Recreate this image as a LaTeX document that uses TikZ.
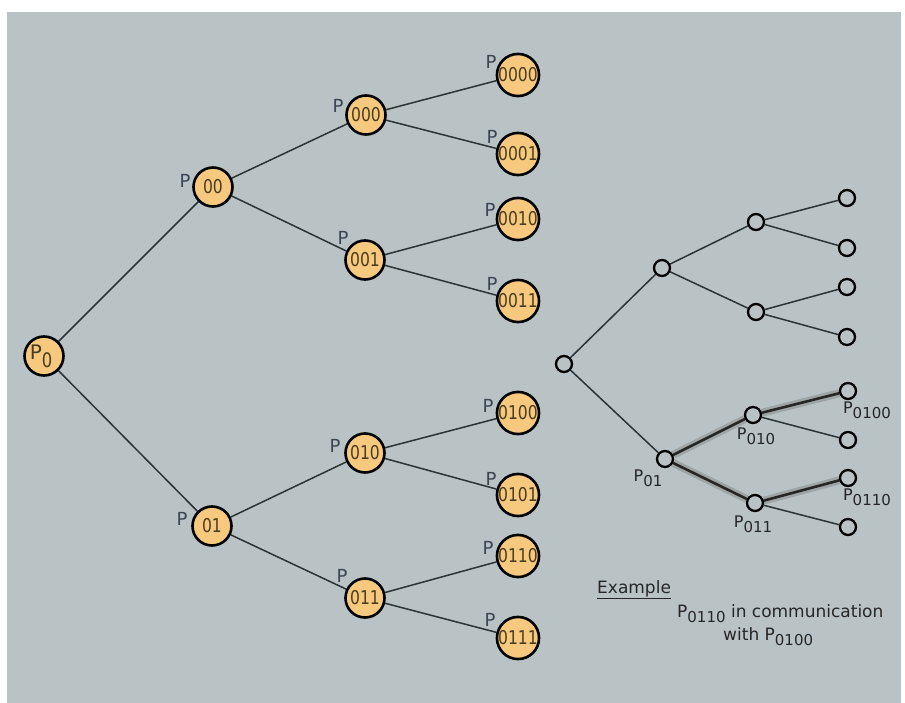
\documentclass[tikz,border=0pt]{standalone}
\usepackage{fontspec}
\setmainfont{DejaVu Sans}
\newfontfamily\cfont[FakeStretch=0.82]{DejaVu Sans}
\usetikzlibrary{backgrounds}
\definecolor{bgray}{HTML}{B9C3C5}
\definecolor{nodeorange}{HTML}{F7C97F}
\definecolor{digitbrown}{HTML}{4A3C1E}
\definecolor{labcol}{HTML}{3A4652}
\definecolor{edgecol}{HTML}{2A3437}
\newcommand\Psb[1]{P\raisebox{-5pt}{\fontsize{15}{15}\selectfont #1}}
\pgfdeclarelayer{bottom}
\pgfsetlayers{bottom,background,main}
\begin{document}
\begin{tikzpicture}[x=1pt,y=-1pt,
  big/.style={circle, draw=black, line width=2.6pt, fill=nodeorange, minimum size=39pt, inner sep=0pt,
    font=\cfont\fontsize{19}{19}\selectfont, text=digitbrown},
  sm/.style={circle, draw=black, line width=2.3pt, fill=bgray, minimum size=16pt, inner sep=0pt},
  edge/.style={line width=1.5pt, draw=edgecol},
  plab/.style={font=\fontsize{18}{18}\selectfont, text=labcol, inner sep=0pt},
  rlab/.style={font=\fontsize{16}{16}\selectfont, text=black!85, inner sep=0pt},
  txt/.style={font=\fontsize{17}{17}\selectfont, text=black!85, inner sep=0pt},
  glow/.style={line width=8pt, draw=black!50, opacity=0.45},
  hl/.style={line width=2.6pt, draw=black!85}]
\useasboundingbox (0,0) rectangle (905,703);
\begin{pgfonlayer}{bottom}
\fill[white] (0,0) rectangle (905,703);
\fill[bgray] (7,12) rectangle (901,703);
\end{pgfonlayer}

% left tree
\node[big] (p0) at (44,356) {};
\node[txt, text=digitbrown, font=\fontsize{20}{20}\selectfont] (p0P) at (36,352) {P};
\node[txt, text=digitbrown, font=\cfont\fontsize{20}{20}\selectfont] (p0s) at (47,360) {0};

\node[big] (n00) at (213,187) {00};
\node[big] (n01) at (212,526) {01};
\node[big] (n000) at (366,115) {000};
\node[big] (n001) at (365,260) {001};
\node[big] (n010) at (365,453) {010};
\node[big] (n011) at (365,598) {011};
\node[big] (n0000) at (518,75) {0000};
\node[big] (n0001) at (518,154) {0001};
\node[big] (n0010) at (518,219) {0010};
\node[big] (n0011) at (518,301) {0011};
\node[big] (n0100) at (518,413) {0100};
\node[big] (n0101) at (518,495) {0101};
\node[big] (n0110) at (518,556) {0110};
\node[big] (n0111) at (518,638) {0111};

\node[plab] (l00) at (185,181) {P};
\node[plab] (l01) at (182,519) {P};
\node[plab] (l000) at (338,106) {P};
\node[plab] (l001) at (343,238) {P};
\node[plab] (l010) at (335,446) {P};
\node[plab] (l011) at (342,576) {P};
\node[plab] (l0000) at (491,62) {P};
\node[plab] (l0001) at (492,137) {P};
\node[plab] (l0010) at (490,210) {P};
\node[plab] (l0011) at (492,284) {P};
\node[plab] (l0100) at (488,406) {P};
\node[plab] (l0101) at (491,479) {P};
\node[plab] (l0110) at (488,548) {P};
\node[plab] (l0111) at (490,620) {P};

% right tree
\node[sm] (r) at (564,364) {};
\node[sm] (a) at (662,268) {};
\node[sm] (b) at (665,459) {};
\node[sm] (aa) at (756,222) {};
\node[sm] (ab) at (756,312) {};
\node[sm] (ba) at (753,415) {};
\node[sm] (bb) at (755,503) {};
\node[sm] (x1) at (847,198) {};
\node[sm] (x2) at (847,248) {};
\node[sm] (x3) at (847,287) {};
\node[sm] (x4) at (847,337) {};
\node[sm] (x5) at (848,391) {};
\node[sm] (x6) at (848,440) {};
\node[sm] (x7) at (848,478) {};
\node[sm] (x8) at (848,527) {};

\node[rlab] (tb) at (648,478) {\Psb{01}};
\node[rlab] (tba) at (756,436) {\Psb{010}};
\node[rlab] (tx5) at (867,410) {\Psb{0100}};
\node[rlab] (tbb) at (753,524) {\Psb{011}};
\node[rlab] (tx7) at (867,497) {\Psb{0110}};

% example text
\node[txt, anchor=west] (ex) at (597,590) {\underline{Example}};
\node[txt, anchor=west] (ex1) at (677,614) {\Psb{0110} in communication};
\node[txt, anchor=west] (ex2) at (723,637) {with \Psb{0100}};

\begin{pgfonlayer}{background}
\draw[edge] (p0) -- (n00);
\draw[edge] (p0) -- (n01);
\draw[edge] (n00) -- (n000);
\draw[edge] (n00) -- (n001);
\draw[edge] (n01) -- (n010);
\draw[edge] (n01) -- (n011);
\draw[edge] (n000) -- (n0000);
\draw[edge] (n000) -- (n0001);
\draw[edge] (n001) -- (n0010);
\draw[edge] (n001) -- (n0011);
\draw[edge] (n010) -- (n0100);
\draw[edge] (n010) -- (n0101);
\draw[edge] (n011) -- (n0110);
\draw[edge] (n011) -- (n0111);

\draw[edge] (r) -- (a);
\draw[edge] (r) -- (b);
\draw[edge] (a) -- (aa);
\draw[edge] (a) -- (ab);
\draw[edge] (aa) -- (x1);
\draw[edge] (aa) -- (x2);
\draw[edge] (ab) -- (x3);
\draw[edge] (ab) -- (x4);
\draw[edge] (ba) -- (x6);
\draw[edge] (bb) -- (x8);
\draw[glow] (b) -- (ba);
\draw[glow] (b) -- (bb);
\draw[glow] (ba) -- (x5);
\draw[glow] (bb) -- (x7);
\draw[hl] (b) -- (ba);
\draw[hl] (b) -- (bb);
\draw[hl] (ba) -- (x5);
\draw[hl] (bb) -- (x7);
\end{pgfonlayer}
\end{tikzpicture}
\end{document}
